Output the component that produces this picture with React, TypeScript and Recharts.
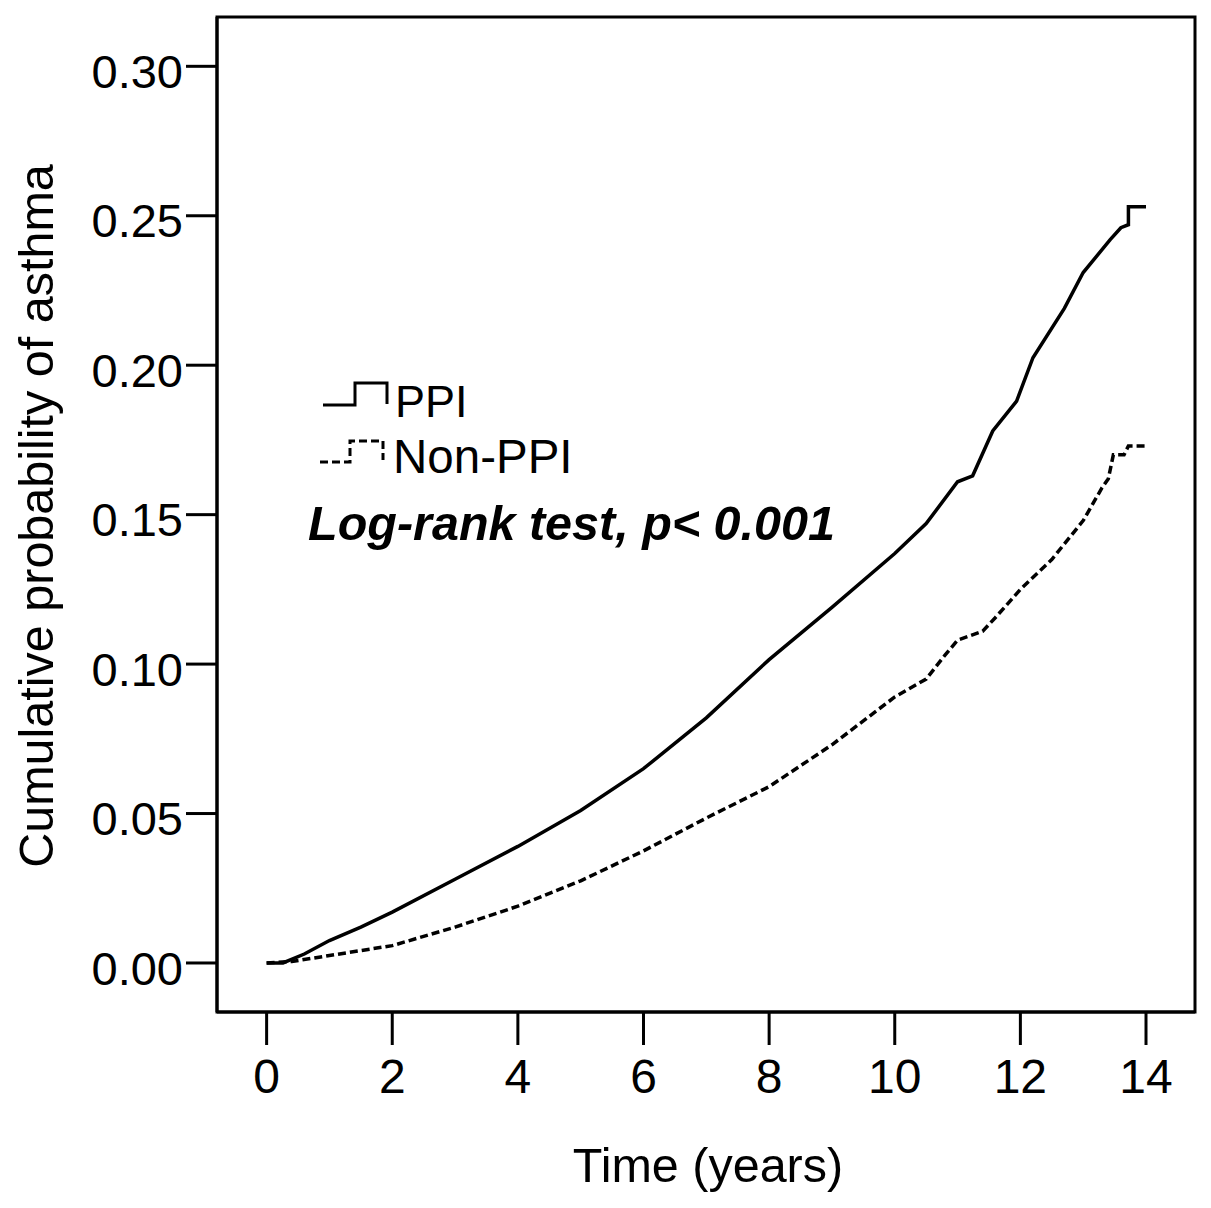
import React from "react";
import {
  LineChart,
  Line,
  XAxis,
  YAxis,
  Legend,
  ReferenceArea,
} from "recharts";

/// time points (years) and cumulative probability
const ppiTime = [0, 0.26, 0.6, 1, 1.5, 2, 3, 4, 5, 6, 7, 8, 9, 10, 10.5, 11, 11.24, 11.56, 11.94, 12.2, 12.7, 13.0, 13.43, 13.6, 13.72, 13.72, 14];
const ppiProb = [0, 0, 0.003, 0.0075, 0.012, 0.017, 0.028, 0.039, 0.051, 0.065, 0.082, 0.1015, 0.119, 0.137, 0.147, 0.161, 0.163, 0.178, 0.188, 0.2025, 0.219, 0.231, 0.242, 0.246, 0.247, 0.253, 0.253];

const nonPpiTime = [0, 0.4, 1, 2, 3, 4, 5, 6, 7, 8, 9, 10, 10.5, 10.8, 11, 11.4, 11.6, 12, 12.5, 13, 13.3, 13.4, 13.48, 13.65, 13.72, 14];
const nonPpiProb = [0, 0.0005, 0.0025, 0.0058, 0.012, 0.019, 0.0275, 0.0375, 0.0485, 0.059, 0.073, 0.089, 0.095, 0.103, 0.108, 0.111, 0.1155, 0.125, 0.135, 0.148, 0.159, 0.162, 0.17, 0.17, 0.173, 0.173];

const xTicks = [0, 2, 4, 6, 8, 10, 12, 14];
const yTicks = [0, 0.05, 0.1, 0.15, 0.2, 0.25, 0.3];

const xDomain: [number, number] = [-0.79, 14.78];
const yDomain: [number, number] = [-0.0164, 0.3165];

const FONT = "'Liberation Sans', Arial, sans-serif";

const ppiData = ppiTime.map((t, i) => ({ t, p: ppiProb[i] }));
const nonPpiData = nonPpiTime.map((t, i) => ({ t, p: nonPpiProb[i] }));

/// legend drawn in the style of SPSS survival plots
function KmLegend() {
  return (
    <svg width={900} height={560} style={{ overflow: "visible" }}>
      <path d="M323,405 H355 V383 H387 V404" stroke="#000" strokeWidth={3} fill="none" />
      <text x={395} y={417} fontSize={45} fontFamily={FONT} fill="#000">PPI</text>
      <path d="M320,462 H350 V441 H383 V460" stroke="#000" strokeWidth={3} fill="none" strokeDasharray="8 4" />
      <text x={393} y={473} fontSize={47.5} fontFamily={FONT} fill="#000">Non-PPI</text>
      <text x={308} y={540} fontSize={48.5} fontFamily={FONT} fontWeight="bold" fontStyle="italic" fill="#000">
        Log-rank test, p&lt; 0.001
      </text>
    </svg>
  );
}

export default function App() {
  return (
    <div style={{ position: "absolute", left: 0, top: 0, background: "#fff" }}>
      <LineChart width={1211} height={1208} margin={{ top: 17, right: 16, left: 0, bottom: 0 }}>
        <ReferenceArea
          x1={xDomain[0]}
          x2={xDomain[1]}
          y1={yDomain[0]}
          y2={yDomain[1]}
          fill="none"
          stroke="#000"
          strokeWidth={3}
          ifOverflow="visible"
        />
        <XAxis
          type="number"
          dataKey="t"
          domain={xDomain}
          ticks={xTicks}
          allowDataOverflow
          height={196}
          tickSize={33}
          tickMargin={14}
          axisLine={{ stroke: "#000", strokeWidth: 3 }}
          tickLine={{ stroke: "#000", strokeWidth: 3 }}
          tick={{ fill: "#000", fontSize: 48, fontFamily: FONT }}
          label={{
            content: () => (
              <text x={708} y={1182} textAnchor="middle" fontSize={48.5} fontFamily={FONT} fill="#000">
                Time (years)
              </text>
            ),
          }}
        />
        <YAxis
          type="number"
          domain={yDomain}
          ticks={yTicks}
          allowDataOverflow
          width={217}
          tickSize={31}
          tickMargin={3}
          tickFormatter={(v: number) => v.toFixed(2)}
          axisLine={{ stroke: "#000", strokeWidth: 3 }}
          tickLine={{ stroke: "#000", strokeWidth: 3 }}
          tick={{ fill: "#000", fontSize: 47, fontFamily: FONT, dy: 5 }}
          label={{
            content: () => (
              <text
                x={53}
                y={516}
                transform="rotate(-90 53 516)"
                textAnchor="middle"
                fontSize={48.5}
                fontFamily={FONT}
                fill="#000"
              >
                Cumulative probability of asthma
              </text>
            ),
          }}
        />
        <Legend
          layout="vertical"
          align="center"
          verticalAlign="middle"
          content={() => <KmLegend />}
          wrapperStyle={{ left: 0, top: 0, width: 900, height: 560 }}
        />
        <Line
          data={ppiData}
          dataKey="p"
          name="PPI"
          type="linear"
          stroke="#000"
          strokeWidth={3.5}
          dot={false}
          isAnimationActive={false}
        />
        <Line
          data={nonPpiData}
          dataKey="p"
          name="Non-PPI"
          type="linear"
          stroke="#000"
          strokeWidth={3.5}
          strokeDasharray="8 4"
          dot={false}
          isAnimationActive={false}
        />
      </LineChart>
    </div>
  );
}
